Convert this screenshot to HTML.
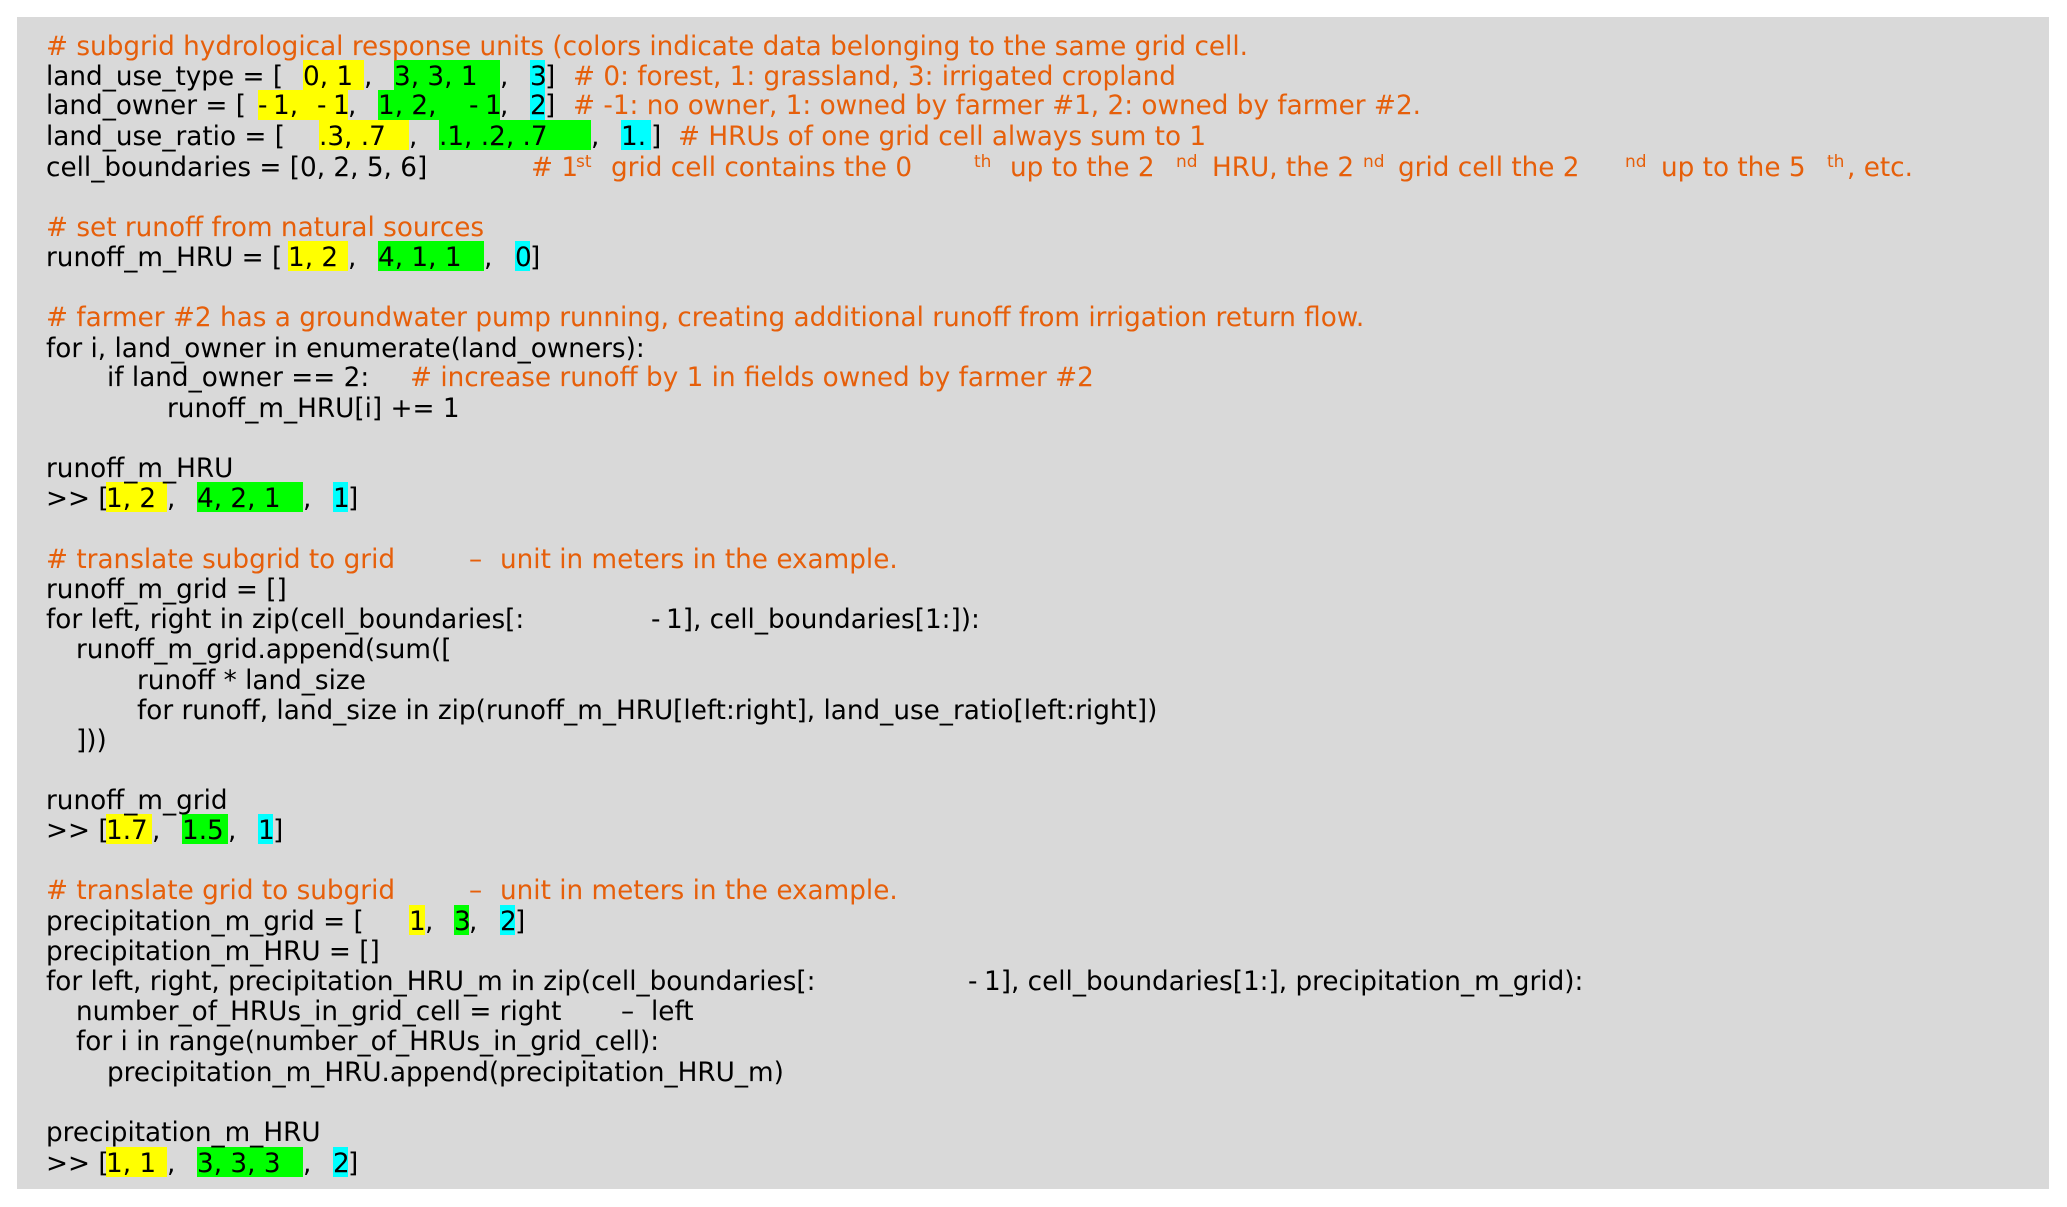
<!DOCTYPE html>
<html><head><meta charset="utf-8">
<style>
html,body{margin:0;padding:0;background:#fff;width:2067px;height:1207px;overflow:hidden}
svg{display:block}
text{font-family:"DejaVu Sans",sans-serif;font-size:26.27px;fill:#000;white-space:pre}
.c{fill:#e65f0a}
.s{font-size:17px}
</style></head><body>
<svg width="2067" height="1207" viewBox="0 0 2067 1207" xmlns="http://www.w3.org/2000/svg">
<rect x="17" y="17" width="2032" height="1172" fill="#d9d9d9"/>
<g fill="#ffff00">
<rect x="303" y="60" width="61" height="30"/><rect x="258" y="90" width="90" height="30"/><rect x="319" y="120" width="90" height="30"/><rect x="288" y="241" width="60" height="30"/><rect x="106" y="482" width="61" height="30"/><rect x="106" y="814" width="46" height="30"/><rect x="409" y="905" width="16" height="30"/><rect x="106" y="1147" width="61" height="30"/>
</g>
<g fill="#00ff00">
<rect x="394" y="60" width="106" height="30"/><rect x="378" y="90" width="122" height="30"/><rect x="439" y="120" width="152" height="30"/><rect x="378" y="241" width="106" height="30"/><rect x="197" y="482" width="106" height="30"/><rect x="182" y="814" width="46" height="30"/><rect x="454" y="905" width="15" height="30"/><rect x="197" y="1147" width="106" height="30"/>
</g>
<g fill="#00ffff">
<rect x="530" y="60" width="15" height="30"/><rect x="530" y="90" width="15" height="30"/><rect x="621" y="120" width="30" height="30"/><rect x="515" y="241" width="15" height="30"/><rect x="333" y="482" width="15" height="30"/><rect x="258" y="814" width="15" height="30"/><rect x="500" y="905" width="15" height="30"/><rect x="333" y="1147" width="15" height="30"/>
</g>
<text class="c" x="46" y="55"># subgrid hydrological response units (colors indicate data belonging to the same grid cell.</text>

<text x="46" y="85">land_use_type = [</text><text x="303" y="85">0, 1</text><text x="364" y="85">,</text><text x="394" y="85">3, 3, 1</text><text x="500" y="85">,</text><text x="530" y="85">3</text><text x="545" y="85">]</text><text class="c" x="573" y="85"># 0: forest, 1: grassland, 3: irrigated cropland</text>

<text x="46" y="114">land_owner = [</text><text x="258" y="114">-</text><text x="273" y="114">1,</text><text x="317" y="114">-</text><text x="333" y="114">1</text><text x="348" y="114">,</text><text x="378" y="114">1, 2,</text><text x="469" y="114">-</text><text x="485" y="114">1</text><text x="500" y="114">,</text><text x="530" y="114">2</text><text x="545" y="114">]</text><text class="c" x="573" y="114"># -1: no owner, 1: owned by farmer #1, 2: owned by farmer #2.</text>

<text x="46" y="145">land_use_ratio = [</text><text x="319" y="145">.3, .7</text><text x="409" y="145">,</text><text x="439" y="145">.1, .2, .7</text><text x="591" y="145">,</text><text x="621" y="145">1.</text><text x="651" y="145">]</text><text class="c" x="678" y="145"># HRUs of one grid cell always sum to 1</text>

<text x="46" y="176">cell_boundaries = [0, 2, 5, 6]</text><text class="c" x="531" y="176"># 1</text><text class="c s" x="576" y="167">st</text><text class="c" x="611" y="176">grid cell contains the 0</text><text class="c s" x="974" y="167">th</text><text class="c" x="1010" y="176">up to the 2</text><text class="c s" x="1176" y="167">nd</text><text class="c" x="1212" y="176">HRU, the 2</text><text class="c s" x="1363" y="167">nd</text><text class="c" x="1398" y="176">grid cell the 2</text><text class="c s" x="1625" y="167">nd</text><text class="c" x="1661" y="176">up to the 5</text><text class="c s" x="1827" y="167">th</text><text class="c" x="1847" y="176">, etc.</text>

<text class="c" x="46" y="236"># set runoff from natural sources</text>
<text x="46" y="266">runoff_m_HRU = [</text><text x="288" y="266">1, 2</text><text x="348" y="266">,</text><text x="378" y="266">4, 1, 1</text><text x="484" y="266">,</text><text x="515" y="266">0</text><text x="530" y="266">]</text>

<text class="c" x="46" y="326"># farmer #2 has a groundwater pump running, creating additional runoff from irrigation return flow.</text>
<text x="46" y="357">for i, land_owner in enumerate(land_owners):</text>
<text x="107" y="386">if land_owner == 2:</text><text class="c" x="410" y="386"># increase runoff by 1 in fields owned by farmer #2</text>
<text x="167" y="417">runoff_m_HRU[i] += 1</text>

<text x="46" y="477">runoff_m_HRU</text>
<text x="46" y="507">&gt;&gt; [</text><text x="106" y="507">1, 2</text><text x="167" y="507">,</text><text x="197" y="507">4, 2, 1</text><text x="303" y="507">,</text><text x="333" y="507">1</text><text x="348" y="507">]</text>

<text class="c" x="46" y="568"># translate subgrid to grid</text><text class="c" x="469" y="568">–</text><text class="c" x="500" y="568">unit in meters in the example.</text>
<text x="46" y="598">runoff_m_grid = []</text>
<text x="46" y="628">for left, right in zip(cell_boundaries[:</text><text x="651" y="628">-</text><text x="666" y="628">1], cell_boundaries[1:]):</text>
<text x="76" y="658">runoff_m_grid.append(sum([</text>
<text x="137" y="689">runoff * land_size</text>
<text x="137" y="719">for runoff, land_size in zip(runoff_m_HRU[left:right], land_use_ratio[left:right])</text>
<text x="76" y="749">]))</text>

<text x="46" y="809">runoff_m_grid</text>
<text x="46" y="839">&gt;&gt; [</text><text x="106" y="839">1.7</text><text x="152" y="839">,</text><text x="182" y="839">1.5</text><text x="228" y="839">,</text><text x="258" y="839">1</text><text x="273" y="839">]</text>

<text class="c" x="46" y="899"># translate grid to subgrid</text><text class="c" x="469" y="899">–</text><text class="c" x="500" y="899">unit in meters in the example.</text>
<text x="46" y="930">precipitation_m_grid = [</text><text x="409" y="930">1</text><text x="425" y="930">,</text><text x="454" y="930">3</text><text x="469" y="930">,</text><text x="500" y="930">2</text><text x="515" y="930">]</text>
<text x="46" y="960">precipitation_m_HRU = []</text>
<text x="46" y="990">for left, right, precipitation_HRU_m in zip(cell_boundaries[:</text><text x="968" y="990">-</text><text x="984" y="990">1], cell_boundaries[1:], precipitation_m_grid):</text>
<text x="76" y="1020">number_of_HRUs_in_grid_cell = right</text><text x="621" y="1020">–</text><text x="651" y="1020">left</text>
<text x="76" y="1050">for i in range(number_of_HRUs_in_grid_cell):</text>
<text x="107" y="1081">precipitation_m_HRU.append(precipitation_HRU_m)</text>

<text x="46" y="1141">precipitation_m_HRU</text>
<text x="46" y="1172">&gt;&gt; [</text><text x="106" y="1172">1, 1</text><text x="167" y="1172">,</text><text x="197" y="1172">3, 3, 3</text><text x="303" y="1172">,</text><text x="333" y="1172">2</text><text x="348" y="1172">]</text>
</svg>
</body></html>
